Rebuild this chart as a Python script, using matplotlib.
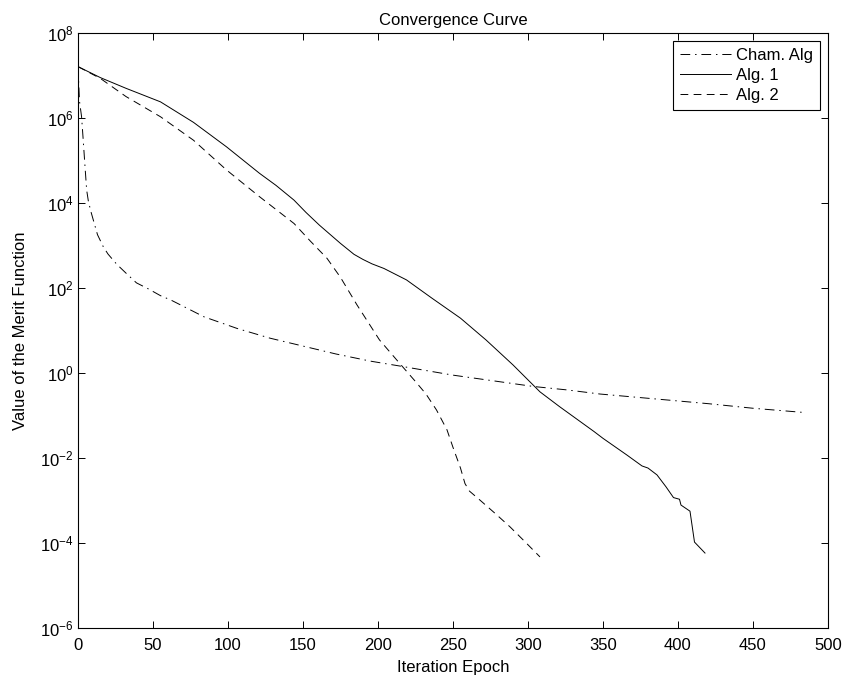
import matplotlib.pyplot as plt
import numpy as np

plt.rcParams["font.family"] = ["Liberation Sans", "DejaVu Sans"]

# Chambolle's algorithm (dash-dot)
cham_x = [0, 1, 2.4, 3.5, 4.7, 5.8, 6.9, 8.5, 10.2, 13, 16.9, 20, 25.8, 32,
          39, 47, 55, 62, 84, 106, 128, 150, 172, 195, 215, 250, 304, 326,
          348, 388, 420, 450, 485]
cham_y = [1.62e7, 2.5e6, 1.07e6, 3.0e5, 7.1e4, 2.0e4, 1.12e4, 6.5e3, 4.0e3,
          1.8e3, 930, 630, 363, 224, 132, 95, 66, 52, 21, 11.2, 6.6, 4.3,
          2.8, 1.9, 1.45, 0.89, 0.48, 0.40, 0.32, 0.24, 0.19, 0.148, 0.117]

# Alg. 1 (solid)
alg1_x = [0, 15, 32, 55, 77, 99, 121, 132, 144, 152, 161, 175, 184, 190,
          196, 204, 219, 236, 255, 272, 290, 308, 321, 344, 350, 366, 376,
          380, 386, 392, 397, 401, 402, 408, 411, 418]
alg1_y = [1.62e7, 8.9e6, 5.0e6, 2.4e6, 7.9e5, 2.1e5, 5.0e4, 2.6e4, 1.17e4,
          6.0e3, 3.0e3, 1.12e3, 620, 470, 370, 288, 155, 57.5, 19.5, 6.0,
          1.55, 0.36, 0.162, 0.042, 0.029, 0.0117, 6.5e-3, 5.8e-3, 4.0e-3,
          2.1e-3, 1.17e-3, 1.07e-3, 7.8e-4, 5.6e-4, 1.05e-4, 5.8e-5]

# Alg. 2 (dashed)
alg2_x = [0, 15, 32, 55, 77, 99, 121, 144, 155, 166, 175, 186, 201, 215,
          225, 232, 239, 246, 250, 255, 258, 261, 268, 278, 288, 298, 308]
alg2_y = [1.62e7, 8.5e6, 3.2e6, 1.07e6, 3.0e5, 6.0e4, 1.41e4, 3.3e3, 1.26e3,
          500, 178, 40, 6.0, 1.6, 0.63, 0.32, 0.135, 0.046, 0.0178, 5.8e-3,
          2.5e-3, 1.66e-3, 1.02e-3, 5.0e-4, 2.4e-4, 1.07e-4, 4.7e-5]

x_ticks = np.arange(0, 501, 50)
y_ticks = [1e-6, 1e-4, 1e-2, 1e0, 1e2, 1e4, 1e6, 1e8]

fig = plt.figure(figsize=(8.43, 6.82), dpi=100)
ax = fig.add_axes([0.0925, 0.0792, 0.8897, 0.8724])

ax.plot(cham_x, cham_y, color="black", linewidth=0.7,
        dashes=(10, 5, 1.5, 5), label="Cham. Alg")
ax.plot(alg1_x, alg1_y, color="black", linewidth=0.7, linestyle="-",
        label="Alg. 1")
ax.plot(alg2_x, alg2_y, color="black", linewidth=0.7,
        dashes=(8, 5.5), label="Alg. 2")

ax.set_yscale("log")
ax.set_xlim(0, 500)
ax.set_ylim(1e-6, 1e8)
ax.set_xticks(x_ticks)
ax.set_yticks(y_ticks)
ax.yaxis.set_minor_locator(plt.NullLocator())
ax.tick_params(direction="in", length=5, width=0.7, top=True, right=True,
               labelsize=12)
ax.tick_params(axis="x", pad=7)
ax.tick_params(axis="y", pad=3)
for spine in ax.spines.values():
    spine.set_linewidth(0.8)

ax.set_title("Convergence Curve", fontsize=12, pad=6)
ax.set_xlabel("Iteration Epoch", fontsize=12, labelpad=5)
ax.set_ylabel("Value of the Merit Function", fontsize=12, labelpad=9)

leg = ax.legend(loc="upper right", fontsize=12, handlelength=3.05,
                borderaxespad=0.5, fancybox=False, framealpha=1,
                edgecolor="black", labelspacing=0.3, borderpad=0.4,
                handletextpad=0.3)
leg.get_frame().set_linewidth(0.8)

fig.savefig("out.png", dpi=100)
